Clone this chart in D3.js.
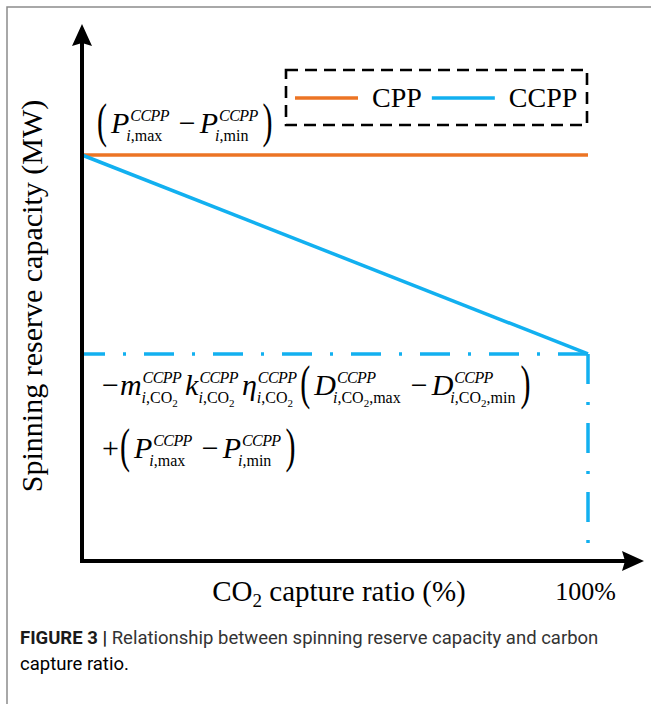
<!DOCTYPE html>
<html>
<head>
<meta charset="utf-8">
<script src="https://cdn.jsdelivr.net/npm/d3@7"></script>
<style>
  body { margin: 0; background: #fff; }
  text { font-family: "Liberation Serif", "Times New Roman", serif; fill: #000; }
  text.caption { font-family: Roboto, "Liberation Sans", sans-serif; }
</style>
</head>
<body>
<script>
// data (reserve capacity normalised to Pmax - Pmin = 1)
var captureRatio = [0, 100];
var cppReserve = [1, 1];
var ccppReserve = [1, 0.51];
var seriesNames = ["CPP", "CCPP"];
var seriesColors = ["#ec7424", "#12b0f0"];
var xTickValues = [100];
var xTickLabels = ["100%"];

var width = 651, height = 704;

var svg = d3.select("body").append("svg")
	.attr("width", width)
	.attr("height", height);

var x = d3.scaleLinear().domain([0, 100]).range([82, 588]);
var y = d3.scaleLinear().domain([0, 1]).range([561, 155]);

// page frame
svg.append("path")
	.attr("d", "M7,704V7H651")
	.attr("fill", "none")
	.attr("stroke", "#8c8c8c")
	.attr("stroke-width", 1.5);

// dash-dot guides to the 100% point
var yEnd = y(ccppReserve[1]);
svg.append("path")
	.attr("d", "M" + x(100) + "," + yEnd + "H" + x(0))
	.attr("fill", "none")
	.attr("stroke", seriesColors[1])
	.attr("stroke-width", 3.5)
	.attr("stroke-dasharray", "30 18 3 18");
svg.append("path")
	.attr("d", "M" + x(100) + "," + yEnd + "V" + y(0))
	.attr("fill", "none")
	.attr("stroke", seriesColors[1])
	.attr("stroke-width", 3.5)
	.attr("stroke-dasharray", "30 18 3 18");

// series lines
var line = d3.line()
	.x(function(d) { return x(d[0]); })
	.y(function(d) { return y(d[1]); });

[cppReserve, ccppReserve].forEach(function(vals, i) {
	svg.append("path")
		.datum(d3.zip(captureRatio, vals))
		.attr("d", line)
		.attr("fill", "none")
		.attr("stroke", seriesColors[i])
		.attr("stroke-width", 3.5);
});

// axes with arrow heads
var xAxis = d3.axisBottom(x)
	.tickValues(xTickValues)
	.tickFormat(function(d, i) { return xTickLabels[i]; })
	.tickSize(0)
	.tickPadding(21);
var gx = svg.append("g")
	.attr("transform", "translate(0," + y(0) + ")")
	.call(xAxis);
gx.select(".domain").remove();
gx.selectAll("text")
	.attr("font-size", 26)
	.attr("font-family", "Liberation Serif")
	.attr("fill", "#000")
	.attr("dx", -3);

svg.append("path")
	.attr("d", "M" + x(0) + "," + y(0) + "H626 M" + x(0) + "," + y(0) + "V42")
	.attr("fill", "none")
	.attr("stroke", "#000")
	.attr("stroke-width", 4)
	.attr("stroke-linecap", "square");
svg.append("path")
	.attr("d", "M644," + y(0) + "L622," + (y(0) - 10) + "L625," + y(0) + "L622," + (y(0) + 10) + "Z")
	.attr("fill", "#000");
svg.append("path")
	.attr("d", "M" + x(0) + ",24L" + (x(0) - 10) + ",46L" + x(0) + ",43L" + (x(0) + 10) + ",46Z")
	.attr("fill", "#000");

// axis titles
svg.append("text")
	.attr("transform", "translate(42,296) rotate(-90)")
	.attr("text-anchor", "middle")
	.attr("font-size", 30)
	.text("Spinning reserve capacity (MW)");

var xt = svg.append("text")
	.attr("x", 339)
	.attr("y", 601)
	.attr("text-anchor", "middle")
	.attr("font-size", 29);
xt.append("tspan").text("CO");
xt.append("tspan").attr("font-size", 19).attr("dy", 6).text("2");
xt.append("tspan").attr("dy", -6).text(" capture ratio (%)");

// legend
svg.append("rect")
	.attr("x", 286).attr("y", 70)
	.attr("width", 301).attr("height", 55)
	.attr("fill", "none")
	.attr("stroke", "#000")
	.attr("stroke-width", 2.6)
	.attr("stroke-dasharray", "12 7");

var lx = 295;
seriesNames.forEach(function(name, i) {
	svg.append("line")
		.attr("x1", lx).attr("x2", lx + 63)
		.attr("y1", 98).attr("y2", 98)
		.attr("stroke", seriesColors[i])
		.attr("stroke-width", 3.5);
	var t = svg.append("text")
		.attr("x", lx + 77)
		.attr("y", 107)
		.attr("font-size", 28)
		.text(name);
	lx = lx + 77 + t.node().getComputedTextLength() + 10;
});

// formula annotations
var FS = 30, SS = 16;

function term(base, sub) {
	return { base: base, sup: "CCPP", sub: sub, subDx: base === "P" || base === "D" ? -3 : 0 };
}
var subMax = [["i", "it"], [",max", "rm"]];
var subMin = [["i", "it"], [",min", "rm"]];
var subCO2 = [["i", "it"], [",CO", "rm"], ["2", "sm"]];
var subCO2max = [["i", "it"], [",CO", "rm"], ["2", "sm"], [",max", "rm"]];
var subCO2min = [["i", "it"], [",CO", "rm"], ["2", "sm"], [",min", "rm"]];

function mathLine(x0, y0, tokens) {
	var g = svg.append("g");
	var cx = x0;
	tokens.forEach(function(t) {
		if (t.paren) {
			cx += t.paren === ")" ? 1 : 0;
			var p = g.append("text")
				.attr("transform", "translate(" + cx + "," + (y0 + 4) + ") scale(1,1.6)")
				.attr("font-size", FS)
				.text(t.paren);
			cx += p.node().getComputedTextLength() + 4;
		} else if (t.op) {
			cx += t.lead ? 0 : 6;
			var o = g.append("text")
				.attr("x", cx).attr("y", y0)
				.attr("font-size", FS)
				.text(t.op);
			cx += o.node().getComputedTextLength() + (t.lead ? 1 : 4);
		} else {
			var b = g.append("text")
				.attr("x", cx).attr("y", y0)
				.attr("font-size", FS)
				.attr("font-style", "italic")
				.text(t.base);
			cx += b.node().getComputedTextLength();
			var sp = g.append("text")
				.attr("x", cx + 1).attr("y", y0 - 12)
				.attr("font-size", SS)
				.attr("font-style", "italic")
				.style("letter-spacing", "-0.6px")
				.text(t.sup);
			var sb = g.append("text")
				.attr("x", cx + t.subDx).attr("y", y0 + 8)
				.attr("font-size", SS);
			var low = false;
			t.sub.forEach(function(s) {
				var ts = sb.append("tspan")
					.attr("font-style", s[1] === "it" ? "italic" : "normal")
					.attr("font-size", s[1] === "sm" ? 11 : SS)
					.text(s[0]);
				if (s[1] === "sm" && !low) { ts.attr("dy", 4); low = true; }
				else if (s[1] !== "sm" && low) { ts.attr("dy", -4); low = false; }
			});
			var w1 = sp.node().getComputedTextLength() + 1;
			var w2 = sb.node().getComputedTextLength() + t.subDx;
			cx += Math.max(w1, w2) + 4;
		}
	});
}

mathLine(97, 133, [
	{ paren: "(" }, term("P", subMax), { op: "\u2212" }, term("P", subMin), { paren: ")" }
]);

mathLine(102, 395, [
	{ op: "\u2212", lead: true }, term("m", subCO2), term("k", subCO2), term("\u03b7", subCO2),
	{ paren: "(" }, term("D", subCO2max), { op: "\u2212" }, term("D", subCO2min), { paren: ")" }
]);

mathLine(102, 458, [
	{ op: "+", lead: true }, { paren: "(" }, term("P", subMax), { op: "\u2212" }, term("P", subMin), { paren: ")" }
]);

// caption
var cap = svg.append("text")
	.attr("class", "caption")
	.attr("x", 20)
	.attr("y", 644)
	.attr("font-size", 18.5);
cap.append("tspan").attr("font-weight", "bold").attr("fill", "#1a1a1a").text("FIGURE 3 | ");
cap.append("tspan").attr("fill", "#333").text("Relationship between spinning reserve capacity and carbon");
svg.append("text")
	.attr("class", "caption")
	.attr("x", 20)
	.attr("y", 670)
	.attr("font-size", 18.5)
	.attr("fill", "#333")
	.text("capture ratio.");
</script>
</body>
</html>
